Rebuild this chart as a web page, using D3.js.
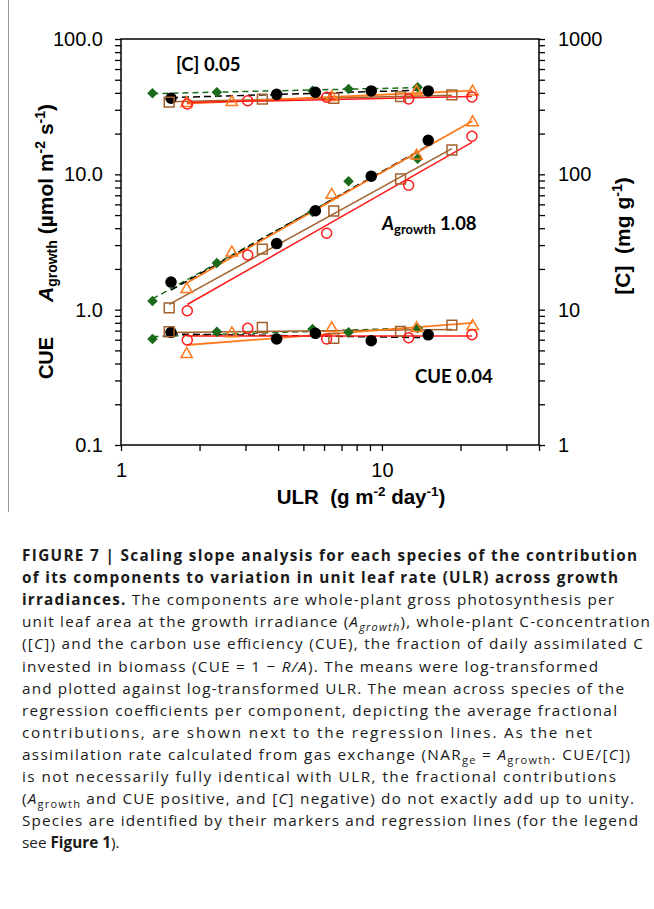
<!DOCTYPE html>
<html><head><meta charset="utf-8">
<script src="https://cdn.jsdelivr.net/npm/d3@7"></script>
<style>body{margin:0;background:#fff}svg{display:block}</style>
</head><body>
<svg id="c" width="654" height="909"></svg>
<script>
// ---- data ----
const ulrDiamond=[1.32,2.33,5.42,7.45,13.7];
const agrowthDiamond=[1.16,2.21,5.27,8.88,13.05];
const cDiamond=[397,404,415,427,440];
const cueDiamond=[0.607,0.687,0.72,0.68,0.728];

const ulrDot=[1.555,3.95,5.56,9.1,15.05];
const agrowthDot=[1.60,3.08,5.38,9.69,17.84];
const cDot=[365,390,404,413,413];
const cueDot=[0.680,0.607,0.669,0.590,0.652];

const ulrSquare=[1.53,3.48,6.54,11.79,18.55];
const agrowthSquare=[1.03,2.80,5.36,9.24,15.13];
const cSquare=[342,360,365,375,386];
const cueSquare=[0.687,0.738,0.614,0.69,0.77];

const ulrTriangle=[1.785,2.66,6.42,13.58,22.26];
const agrowthTriangle=[1.415,2.64,7.04,13.73,24.2];
const cTriangle=[336,341,371,408,408];
const cueTriangle=[0.468,0.667,0.728,0.728,0.755];

const ulrCircle=[1.795,3.06,6.14,12.66,22.13];
const agrowthCircle=[0.982,2.535,3.67,8.30,19.1];
const cCircle=[331,350,371,360,373];
const cueCircle=[0.597,0.728,0.607,0.62,0.654];

const xTicks=[1,2,3,4,5,6,7,8,9,10,20,30,40];
const xTickLabels={1:"1",10:"10"};
const yLeftLabels={0.1:"0.1",1:"1.0",10:"10.0",100:"100.0"};
const yRightLabels={1:"1",10:"10",100:"100",1000:"1000"};

// ---- styles ----
const species=[
 {ulr:ulrDiamond,a:agrowthDiamond,c:cDiamond,cue:cueDiamond,color:"#1c6b1c",shape:"diamond",dash:"6,4"},
 {ulr:ulrDot,a:agrowthDot,c:cDot,cue:cueDot,color:"#000000",shape:"dot",dash:"7,4"},
 {ulr:ulrSquare,a:agrowthSquare,c:cSquare,cue:cueSquare,color:"#a3622b",shape:"square",dash:null},
 {ulr:ulrTriangle,a:agrowthTriangle,c:cTriangle,cue:cueTriangle,color:"#ff7a1c",shape:"triangle",dash:null},
 {ulr:ulrCircle,a:agrowthCircle,c:cCircle,cue:cueCircle,color:"#ff1a1a",shape:"circle",dash:null}
];

const svg=d3.select("#c");
const L=121,R=539,T=39,B=445;
const x=d3.scaleLog().domain([1,40]).range([L,R]);
const yL=d3.scaleLog().domain([0.1,100]).range([B,T]);
const yR=d3.scaleLog().domain([1,1000]).range([B,T]);

// panel frame line
svg.append("line").attr("x1",8.5).attr("x2",8.5).attr("y1",0).attr("y2",512).attr("stroke","#9a9a9a").attr("stroke-width",1);

function decadeTicks(lo,hi){const t=[];for(let d=lo;d<hi;d*=10){for(let k=1;k<10;k++)t.push(+(k*d).toPrecision(3));}t.push(hi);return t;}

const AX="'Liberation Sans', Arial, sans-serif";
function styleAxis(g){
  g.select(".domain").remove();
  g.selectAll("line").attr("stroke","#000").attr("stroke-width",1.3);
  g.selectAll("text").attr("font-family",AX).attr("font-size",20).attr("fill","#000");
}
svg.append("g").attr("transform",`translate(${L},0)`)
  .call(d3.axisLeft(yL).tickValues(decadeTicks(0.1,100)).tickSize(6).tickPadding(12).tickFormat(d=>yLeftLabels[d]||""))
  .call(styleAxis);
svg.append("g").attr("transform",`translate(${R},0)`)
  .call(d3.axisRight(yR).tickValues(decadeTicks(1,1000)).tickSize(6).tickPadding(13).tickFormat(d=>yRightLabels[d]||""))
  .call(styleAxis);
svg.append("g").attr("transform",`translate(0,${B})`)
  .call(d3.axisBottom(x).tickValues(xTicks).tickSize(6).tickPadding(12).tickFormat(d=>xTickLabels[d]||""))
  .call(styleAxis);
svg.append("rect").attr("x",L).attr("y",T).attr("width",R-L).attr("height",B-T)
  .attr("fill","none").attr("stroke","#000").attr("stroke-width",1.5);

// regression in log-log space
function fit(xs,ys){
  const lx=xs.map(Math.log10),ly=ys.map(Math.log10);
  const mx=d3.mean(lx),my=d3.mean(ly);
  const b=d3.sum(lx,(v,i)=>(v-mx)*(ly[i]-my))/d3.sum(lx,v=>(v-mx)*(v-mx));
  const a=my-b*mx;
  const x0=d3.min(xs),x1=d3.max(xs);
  return [[x0,Math.pow(10,a+b*Math.log10(x0))],[x1,Math.pow(10,a+b*Math.log10(x1))]];
}
const groups=[{k:"c",y:yR},{k:"a",y:yL},{k:"cue",y:yL}];
const lineG=svg.append("g"), markG=svg.append("g");
groups.forEach(gr=>{
  species.forEach(s=>{
    const pts=fit(s.ulr,s[gr.k]);
    lineG.append("path").attr("d",d3.line().x(d=>x(d[0])).y(d=>gr.y(d[1]))(pts))
      .attr("fill","none").attr("stroke",s.color).attr("stroke-width",s.shape==="triangle"?1.8:1.5)
      .attr("stroke-dasharray",s.dash);
  });
});
const sym={
  diamond:d3.symbol(d3.symbolSquare,56)(),
  dot:d3.symbol(d3.symbolCircle,Math.PI*5.8*5.8)(),
  square:d3.symbol(d3.symbolSquare,96)(),
  triangle:d3.symbol(d3.symbolTriangle,56)(),
  circle:d3.symbol(d3.symbolCircle,Math.PI*5*5)()
};
groups.forEach(gr=>{
  species.forEach(s=>{
    s.ulr.forEach((u,i)=>{
      const p=markG.append("path").attr("d",sym[s.shape])
        .attr("transform",`translate(${x(u)},${gr.y(s[gr.k][i])})${s.shape==="diamond"?" rotate(45)":""}`);
      if(s.shape==="diamond"||s.shape==="dot") p.attr("fill",s.color);
      else p.attr("fill","none").attr("stroke",s.color).attr("stroke-width",1.5);
    });
  });
});

// annotations
const AN="Lato, 'Open Sans', sans-serif";
svg.append("text").attr("x",176).attr("y",71).attr("font-family",AN).attr("font-weight",700).attr("font-size",18.5).text("[C] 0.05");
const ag=svg.append("text").attr("x",382).attr("y",230).attr("font-family",AN).attr("font-weight",700).attr("font-size",18.5);
ag.append("tspan").attr("font-style","italic").text("A");
ag.append("tspan").attr("font-size",13).attr("dy",4).text("growth");
ag.append("tspan").attr("dy",-4).text(" 1.08");
svg.append("text").attr("x",415).attr("y",383).attr("font-family",AN).attr("font-weight",700).attr("font-size",18.5).text("CUE 0.04");

// axis titles
const yt=svg.append("text").attr("transform","translate(53,302) rotate(-90)").attr("font-family",AX).attr("font-weight",700).attr("font-size",21);
yt.append("tspan").attr("font-style","italic").text("A");
yt.append("tspan").attr("font-size",14).attr("dy",4).text("growth");
yt.append("tspan").attr("dy",-4).text("\u00a0(µmol m");
yt.append("tspan").attr("font-size",14).attr("dy",-8).text("-2");
yt.append("tspan").attr("dy",8).text("\u00a0s");
yt.append("tspan").attr("font-size",14).attr("dy",-8).text("-1");
yt.append("tspan").attr("dy",8).text(")");
svg.append("text").attr("transform","translate(53,358) rotate(-90)").attr("text-anchor","middle")
  .attr("font-family",AX).attr("font-weight",700).attr("font-size",20).text("CUE");
const rt=svg.append("text").attr("transform","translate(630,236) rotate(-90)").attr("text-anchor","middle")
  .attr("font-family",AX).attr("font-weight",700).attr("font-size",21);
rt.append("tspan").text("[C]\u00a0\u00a0(mg g");
rt.append("tspan").attr("font-size",14).attr("dy",-8).text("-1");
rt.append("tspan").attr("dy",8).text(")");
const xt=svg.append("text").attr("x",361).attr("y",504).attr("text-anchor","middle")
  .attr("font-family",AX).attr("font-weight",700).attr("font-size",20.5);
xt.append("tspan").text("ULR\u00a0\u00a0(g m");
xt.append("tspan").attr("font-size",13.5).attr("dy",-8).text("-2");
xt.append("tspan").attr("dy",8).text("\u00a0day");
xt.append("tspan").attr("font-size",13.5).attr("dy",-8).text("-1");
xt.append("tspan").attr("dy",8).text(")");

// caption
const capLines=[
 [["FIGURE 7 | Scaling slope analysis for each species of the contribution","b"]],
 [["of its components to variation in unit leaf rate (ULR) across growth","b"]],
 [["irradiances.","b"],[" The components are whole-plant gross photosynthesis per",""]],
 [["unit leaf area at the growth irradiance (",""],["A","i"],["growth","is"],["), whole-plant C-concentration",""]],
 [["([",""],["C","i"],["]) and the carbon use efficiency (CUE), the fraction of daily assimilated C",""]],
 [["invested in biomass (CUE = 1 − ",""],["R/A","i"],["). The means were log-transformed",""]],
 [["and plotted against log-transformed ULR. The mean across species of the",""]],
 [["regression coefficients per component, depicting the average fractional",""]],
 [["contributions, are shown next to the regression lines. As the net",""]],
 [["assimilation rate calculated from gas exchange (NAR",""],["ge","s"],[" = ",""],["A","i"],["growth","s"],[". CUE/[",""],["C","i"],["])",""]],
 [["is not necessarily fully identical with ULR, the fractional contributions",""]],
 [["(",""],["A","i"],["growth","s"],[" and CUE positive, and [",""],["C","i"],["] negative) do not exactly add up to unity.",""]],
 [["Species are identified by their markers and regression lines (for the legend",""]],
 [["see ",""],["Figure 1","b"],[").",""]]
];
const capEnds=[637,618,614,650,643,598,624,617,592,630,616,634,638,null];
const CF="'Open Sans', 'Noto Sans', sans-serif";
capLines.forEach((segs,li)=>{
  const t=svg.append("text").attr("x",22).attr("y",561+li*22.1).attr("font-family",CF).attr("font-size",15.3).attr("fill","#1a1a1a");
  let shifted=false;
  segs.forEach(([txt,st])=>{
    const sp=t.append("tspan").text(txt);
    if(st.includes("b")) sp.attr("font-weight",700);
    if(st.includes("i")) sp.attr("font-style","italic");
    const sub=st.includes("s");
    if(sub){sp.attr("font-size",11);}
    if(sub&&!shifted){sp.attr("dy",4);shifted=true;}
    else if(!sub&&shifted){sp.attr("dy",-4);shifted=false;}
  });
  if(capEnds[li]) t.attr("textLength",capEnds[li]-22).attr("lengthAdjust","spacing");
});
</script>
</body></html>
